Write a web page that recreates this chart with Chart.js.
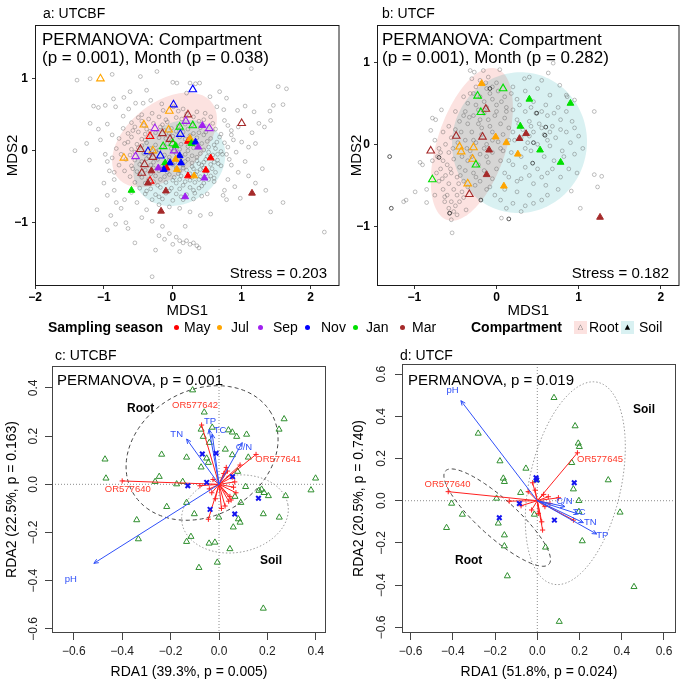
<!DOCTYPE html>
<html><head><meta charset="utf-8">
<script src="https://cdn.jsdelivr.net/npm/chart.js"></script>
<style>
body{margin:0;background:#fff;font-family:"Liberation Sans",Arial,Helvetica,sans-serif;}
#wrap{position:relative;width:685px;height:690px;overflow:hidden;background:#fff}
canvas{position:absolute}
.t{position:absolute;white-space:nowrap;color:#000;line-height:1}
.dot{position:absolute;width:5px;height:5px;border-radius:50%}
.key{position:absolute;width:13px;height:13px;font-family:"DejaVu Sans",sans-serif;font-size:7px;line-height:13px;text-align:center}
</style></head><body><div id="wrap">
<canvas id="cA" width="345" height="322" style="left:0;top:0;width:345px;height:322px"></canvas>
<canvas id="cB" width="340" height="322" style="left:345px;top:0;width:340px;height:322px"></canvas>
<canvas id="cC" width="345" height="350" style="left:0;top:340px;width:345px;height:350px"></canvas>
<canvas id="cD" width="340" height="350" style="left:345px;top:340px;width:340px;height:350px"></canvas>

<div class="t" style="left:43px;top:6px;font-size:14px">a: UTCBF</div>
<div class="t" style="left:42px;top:31px;font-size:17px">PERMANOVA: Compartment</div>
<div class="t" style="left:42px;top:49px;font-size:17px">(p = 0.001), Month (p = 0.038)</div>
<div class="t" style="right:358px;top:265px;font-size:15px">Stress = 0.203</div>

<div class="t" style="left:382px;top:6px;font-size:14px">b: UTCF</div>
<div class="t" style="left:382px;top:31px;font-size:17px">PERMANOVA: Compartment</div>
<div class="t" style="left:382px;top:49px;font-size:17px">(p = 0.001), Month (p = 0.282)</div>
<div class="t" style="right:16px;top:265px;font-size:15px">Stress = 0.182</div>

<div id="legend"></div>

<div class="t" style="left:55px;top:348px;font-size:14px">c: UTCBF</div>
<div class="t" style="left:57px;top:372px;font-size:15px">PERMANOVA, p = 0.001</div>
<div class="t" style="left:127px;top:402px;font-size:12px;font-weight:bold">Root</div>
<div class="t" style="left:260px;top:554px;font-size:12px;font-weight:bold">Soil</div>

<div class="t" style="left:400px;top:348px;font-size:14px">d: UTCF</div>
<div class="t" style="left:408px;top:372px;font-size:15px">PERMANOVA, p = 0.019</div>
<div class="t" style="left:633px;top:403px;font-size:12px;font-weight:bold">Soil</div>
<div class="t" style="left:455px;top:554px;font-size:12px;font-weight:bold">Root</div>
</div>
<script>
// ---------------- DATA ----------------
const monthNames = ['May','Jul','Sep','Nov','Jan','Mar'];
const compartmentNames = ['Root','Soil'];

// Panel a (UTCBF NMDS): background samples [MDS1, MDS2]
const aGray = [
[-1.39,0.98],[-1.20,1.00],[-0.88,1.06],[-0.47,1.03],[-0.23,1.10],[0.00,0.95],[0.06,0.94],[0.25,0.94],[0.33,0.93],[0.39,0.94],[1.14,1.14],[1.53,0.89],[1.65,0.86],[0.68,0.82],[0.78,0.73],[0.54,0.75],[0.20,0.80],[-0.38,0.84],[-0.62,0.82],[-0.71,0.74],[-0.86,0.72],[-1.15,0.62],[-1.08,0.60],[-0.98,0.63],[-0.83,0.61],[-0.64,0.58],[-0.54,0.66],[-0.43,0.66],[-0.32,0.70],[-0.16,0.65],[-0.14,0.56],[0.01,0.61],[0.08,0.55],[0.15,0.58],[0.35,0.54],[0.47,0.52],[0.64,0.61],[0.74,0.57],[0.94,0.56],[1.05,0.62],[1.18,0.54],[1.41,0.55],[1.60,0.64],[1.46,0.63],
[0.80,0.35],[0.85,0.28],[0.95,0.33],[1.25,0.38],[1.33,0.33],[1.42,0.42],[1.15,0.25],[0.88,0.15],[1.00,0.12],[1.10,0.05],[1.20,0.10],[0.80,0.05],[0.78,-0.05],[0.92,-0.02],[1.05,-0.15],[0.85,-0.20],[0.95,-0.30],[1.10,-0.35],[0.80,-0.40],[0.75,-0.55],[0.90,-0.50],[1.20,-0.45],[1.30,-0.25],[1.60,-0.72],[1.42,-0.85],[0.98,-0.66],[0.78,-0.68],[0.73,-0.62],[2.20,-1.13],[1.35,-0.55],
[-1.25,0.10],[-1.21,-0.13],[-1.05,0.15],[-1.08,0.30],[-0.95,0.37],[-1.20,0.38],[-0.98,-0.05],[-0.95,-0.15],[-0.92,-0.28],[-0.85,-0.40],[-1.00,-0.45],[-0.85,-0.55],[-0.95,-0.62],[-0.82,-0.72],[-0.70,-0.68],[-0.75,-0.80],[-1.10,-0.82],[-0.90,-0.90],[-0.68,-1.00],[-0.65,-1.08],[-0.95,-1.10],[-0.83,-1.02],[-1.42,0.00],
[-0.52,-0.72],[-0.38,-0.82],[-0.20,-0.75],[-0.05,-0.78],[0.10,-0.80],[0.25,-0.85],[0.40,-0.90],[0.55,-0.88],[-0.45,-0.93],[-0.30,-0.98],[-0.15,-1.05],[-0.05,-1.15],[0.05,-1.20],[0.10,-1.25],[0.15,-1.28],[0.20,-1.25],[0.25,-1.30],[0.30,-1.28],[0.35,-1.32],[0.38,-1.35],[-0.20,-1.18],[-0.12,-1.23],[-0.25,-1.38],[0.10,-1.40],[0.00,-1.30],[-0.30,-1.75],[0.18,-1.05],[-0.55,-1.28],
[-0.50,0.46],[-0.35,0.44],[-0.20,0.47],[-0.10,0.43],[0.05,0.46],[0.13,0.44],[0.30,0.47],[0.45,0.43],
[-0.60,0.39],[-0.45,0.41],[-0.28,0.38],[-0.08,0.40],[0.18,0.37],[0.38,0.41],[0.58,0.38],
[-0.72,0.31],[-0.55,0.33],[-0.38,0.30],[-0.18,0.33],[-0.02,0.31],[0.22,0.30],[0.40,0.32],[0.62,0.30],
[-0.65,0.24],[-0.50,0.26],[-0.40,0.23],[-0.25,0.25],[-0.05,0.24],[0.05,0.27],[0.30,0.24],[0.48,0.26],[0.70,0.23],
[-0.78,0.17],[-0.60,0.19],[-0.45,0.16],[-0.20,0.18],[-0.10,0.17],[0.10,0.19],[0.18,0.16],[0.35,0.18],[0.55,0.17],[0.68,0.19],
[-0.70,0.10],[-0.52,0.09],[-0.38,0.11],[-0.25,0.08],[-0.08,0.10],[0.12,0.09],[0.22,0.06],[0.42,0.10],[0.60,0.08],[0.75,0.11],
[-0.82,0.03],[-0.60,0.02],[-0.50,0.04],[-0.32,0.03],[-0.20,0.01],[-0.02,0.03],[0.10,0.02],[0.30,0.04],[0.45,0.01],[0.62,0.03],[0.70,-0.01],
[-0.75,-0.05],[-0.62,-0.06],[-0.42,-0.04],[-0.30,-0.05],[-0.12,-0.06],[0.05,-0.04],[0.18,-0.05],[0.28,-0.07],[0.40,-0.04],[0.58,-0.06],[0.72,-0.05],
[-0.68,-0.12],[-0.55,-0.13],[-0.38,-0.11],[-0.22,-0.12],[-0.05,-0.13],[0.08,-0.11],[0.22,-0.12],[0.35,-0.14],[0.48,-0.12],[0.65,-0.13],
[-0.78,-0.20],[-0.60,-0.21],[-0.48,-0.19],[-0.32,-0.20],[-0.15,-0.21],[0.00,-0.19],[0.15,-0.20],[0.28,-0.22],[0.42,-0.20],[0.55,-0.19],[0.70,-0.21],
[-0.70,-0.28],[-0.52,-0.29],[-0.40,-0.27],[-0.20,-0.28],[-0.08,-0.30],[0.10,-0.28],[0.20,-0.27],[0.35,-0.29],[0.50,-0.28],[0.62,-0.30],
[-0.62,-0.36],[-0.45,-0.37],[-0.25,-0.35],[-0.12,-0.36],[0.02,-0.37],[0.12,-0.35],[0.28,-0.37],[0.40,-0.36],[0.55,-0.35],
[-0.55,-0.44],[-0.40,-0.45],[-0.28,-0.43],[-0.10,-0.44],[0.05,-0.45],[0.18,-0.43],[0.32,-0.44],[0.45,-0.45],[0.60,-0.43],
[-0.48,-0.52],[-0.32,-0.53],[-0.18,-0.51],[-0.02,-0.52],[0.10,-0.53],[0.25,-0.51],[0.38,-0.52],
[-0.40,-0.60],[-0.25,-0.61],[-0.10,-0.59],[0.05,-0.60],[0.20,-0.61],[0.32,-0.59],[0.50,-0.60],
[-0.30,-0.68],[-0.15,-0.67],[0.00,-0.69],[0.15,-0.68],[0.30,-0.67],
[-0.42,0.35],[-0.15,0.36],[0.08,0.34],[0.28,0.36],[-0.32,0.20],[0.00,0.20],[0.25,0.21],[0.45,0.22],[-0.45,0.07],[-0.15,0.06],[0.05,0.08],[0.35,0.07],[0.52,0.05],[-0.35,-0.08],[-0.05,-0.09],[0.12,-0.08],[0.35,-0.09],[0.50,-0.08],[-0.28,-0.16],[0.03,-0.16],[0.28,-0.17],[0.45,-0.16],[-0.15,-0.25],[0.05,-0.24],[0.30,-0.25],[0.45,-0.24],[-0.32,-0.32],[0.08,-0.32],[0.25,-0.32],[0.48,-0.32],[-0.18,-0.40],[0.10,-0.40],[0.38,-0.40],[0.65,-0.05],[0.66,-0.18],[0.64,0.12],
[-0.58,0.28],[-0.33,0.27],[-0.12,0.28],[0.15,0.26],[0.38,0.25],[-0.65,0.12],[-0.40,0.15],[-0.02,0.14],[0.28,0.13],[0.50,0.13],[-0.55,-0.02],[-0.25,-0.01],[0.02,-0.01],[0.22,0.00],[0.52,-0.02],[-0.45,-0.15],[-0.12,-0.17],[0.18,-0.15],[0.38,-0.18],[0.60,-0.16],[-0.58,-0.25],[-0.28,-0.24],[0.15,-0.24],[0.40,-0.26],[0.57,-0.25],[-0.48,-0.33],[-0.05,-0.33],[0.33,-0.33],[0.60,-0.38],[-0.35,-0.40],[0.00,-0.41],[0.25,-0.41],[0.52,-0.40],[-0.22,-0.48],[0.15,-0.48],[0.42,-0.49],[-0.38,-0.56],[-0.05,-0.56],[0.30,-0.55],[-0.20,-0.64],[0.12,-0.64],[0.42,-0.63],[-0.30,0.52],[0.20,0.51],[-0.45,0.50],[0.55,0.47],[-0.88,0.22],[-0.88,-0.10],[-0.85,-0.30],[0.82,-0.12],[0.85,0.22],[0.75,0.42],[-0.72,0.48],[-0.60,-0.58]
];
// [MDS1, MDS2, month index]
const aRoot = [[-1.05,1.00,1],[0.29,0.85,3],[0.01,0.64,3],[-0.05,0.55,1],[0.22,0.50,5],[1.00,0.38,5],[-0.42,0.36,1],[-0.26,0.31,2],[0.19,0.41,2],[0.10,0.33,4],[0.29,0.35,4],[0.53,0.31,2],[-0.06,0.29,1],[-0.15,0.24,5],[-0.33,0.20,0],[0.11,0.23,3],[-0.04,0.16,5],[-0.14,0.06,4],[0.00,0.10,4],[-0.47,0.02,5],[-0.36,-0.01,3],[-0.29,0.00,1],[-0.18,-0.07,3],[-0.29,-0.09,5],[0.02,0.00,2],[-0.54,-0.08,2],[-0.71,-0.10,1],[-0.41,-0.19,5],[-0.45,-0.31,5],[-0.33,-0.42,0]];
const aSoil = [[0.22,0.13,0],[0.25,0.17,1],[0.27,0.10,4],[0.33,0.12,3],[0.43,0.35,2],[0.37,0.05,2],[0.04,0.07,4],[0.10,-0.07,3],[0.55,-0.10,0],[0.04,-0.12,1],[0.12,-0.17,3],[-0.11,-0.17,4],[-0.04,-0.17,3],[-0.09,-0.24,0],[-0.13,-0.26,3],[-0.21,-0.24,2],[-0.31,-0.28,5],[0.06,-0.26,1],[0.22,-0.35,0],[0.31,-0.35,1],[0.48,-0.27,0],[0.46,-0.38,2],[-0.36,-0.45,5],[-0.60,-0.55,4],[-0.10,-0.56,5],[0.18,-0.64,2],[-0.17,-0.84,5],[1.15,-0.59,5]];
// ellipses [centre x, centre y, semi-axis a, semi-axis b, angle deg]
const aEllipseRoot = [-0.12,0.15,0.86,0.52,36];
const aEllipseSoil = [0.095,-0.17,0.70,0.56,30];

// Panel b (UTCF NMDS)
const bGray = [
[-1.13,-0.70],[-1.10,-0.68],[-0.99,-0.58],[-0.85,-0.71],[-0.93,-0.22],[-0.90,-0.25],[-0.80,0.17],[-0.78,0.32],[-0.74,0.30],[-0.67,0.42],[-0.32,0.90],[-0.16,0.90],[0.04,0.91],[0.34,0.80],[0.63,0.87],[0.69,0.99],[0.77,0.72],[0.86,0.58],[0.95,0.54],[1.19,0.40],[1.28,-0.39],[1.19,-0.37],[1.23,-0.52],[1.02,-0.78],[0.91,-0.57],[0.06,-0.90],[-0.54,-1.08],[-0.57,-0.84],[-0.63,-0.64],[-0.55,-0.92],
[-0.75,0.05],[-0.70,-0.05],[-0.72,-0.15],[-0.65,-0.20],[-0.68,-0.30],[-0.60,-0.25],[-0.62,-0.38],[-0.55,-0.35],[-0.70,-0.45],[-0.58,-0.48],[-0.65,-0.55],[-0.52,-0.55],[-0.60,-0.62],[-0.48,-0.62],[-0.55,-0.70],[-0.50,-0.75],[-0.58,-0.78],[-0.52,-0.82],[-0.48,-0.86],[-0.45,-0.70],[-0.42,-0.58],[-0.40,-0.45],[-0.48,-0.40],[-0.45,-0.28],[-0.52,-0.18],[-0.58,-0.10],[-0.62,0.00],[-0.55,0.08],[-0.65,0.15],[-0.58,0.22],[-0.50,0.18],[-0.45,0.28],[-0.40,0.35],[-0.50,0.40],[-0.42,-0.15],[-0.38,-0.32],[-0.35,-0.52],[-0.68,-0.10],[-0.73,-0.35],
[-0.30,0.80],[-0.20,0.78],[-0.10,0.82],[0.00,0.75],[-0.25,0.70],[-0.12,0.68],[0.02,0.65],[-0.32,0.62],[-0.20,0.58],[-0.05,0.55],[0.10,0.58],[-0.35,0.50],[-0.25,0.48],[-0.12,0.45],[0.00,0.48],[0.12,0.45],[-0.38,0.40],[-0.28,0.35],[-0.15,0.38],[-0.02,0.35],[0.10,0.32],[-0.35,0.25],[-0.22,0.25],[-0.08,0.22],[0.05,0.25],[0.15,0.20],[-0.30,0.15],[-0.18,0.12],[-0.05,0.15],[0.08,0.12],[-0.38,0.05],[-0.25,0.02],[-0.12,0.00],[0.02,0.03],[0.15,0.05],[-0.32,-0.08],[-0.20,-0.12],[-0.05,-0.10],[0.08,-0.08],[-0.35,-0.20],[-0.22,-0.25],[-0.10,-0.22],[0.05,-0.20],[-0.28,-0.35],[-0.15,-0.32],[0.00,-0.30],[-0.20,-0.45],[-0.05,-0.42],[-0.12,-0.55],[-0.02,-0.62],[-0.26,-0.50],[-0.15,0.52],[-0.28,0.05],[-0.10,0.30],[0.00,0.40],[-0.22,0.42],[-0.15,-0.05],[-0.30,-0.15],[-0.08,0.62],[-0.18,0.20],
[0.20,0.70],[0.35,0.65],[0.50,0.68],[0.65,0.60],[0.25,0.55],[0.45,0.52],[0.60,0.48],[0.75,0.45],[0.85,0.40],[0.20,0.42],[0.35,0.40],[0.48,0.38],[0.62,0.35],[0.78,0.30],[0.92,0.28],[0.25,0.30],[0.40,0.28],[0.52,0.25],[0.68,0.22],[0.85,0.15],[1.00,0.10],[0.20,0.15],[0.32,0.18],[0.45,0.15],[0.58,0.12],[0.72,0.08],[0.90,0.02],[0.22,0.05],[0.38,0.02],[0.50,0.00],[0.65,-0.02],[0.80,-0.08],[0.95,-0.12],[0.18,-0.10],[0.30,-0.15],[0.42,-0.08],[0.58,-0.15],[0.70,-0.20],[0.88,-0.30],[0.20,-0.25],[0.35,-0.28],[0.50,-0.30],[0.62,-0.35],[0.78,-0.40],[0.15,-0.40],[0.30,-0.42],[0.45,-0.48],[0.60,-0.50],[0.75,-0.55],[0.10,-0.55],[0.25,-0.58],[0.40,-0.62],[0.55,-0.68],[0.20,-0.72],[0.35,-0.75],[0.05,-0.68],[0.40,0.10],[0.55,0.20],[0.30,0.08],[0.62,0.05],
[-0.78,-0.20],[-0.66,-0.42],[-0.56,-0.30],[-0.63,-0.70],[-0.46,-0.48],[-0.53,-0.05],[-0.47,0.02],[-0.44,-0.38],[-0.40,-0.65],[-0.37,-0.80],[-0.43,0.15],[-0.36,-0.05],[-0.33,0.33],[-0.40,0.58],[-0.27,0.88],[-0.13,0.75],[-0.05,0.70],[0.06,0.52],[-0.28,0.62],[-0.20,0.30],[-0.05,0.05],[0.05,-0.05],[-0.12,-0.15],[-0.25,-0.40],[-0.08,-0.52],[0.10,-0.35],[0.12,0.40],[0.18,0.62],[0.28,0.48],[0.42,0.45],[0.55,0.40],[0.70,0.38],[0.65,0.15],[0.78,0.18],[0.82,-0.15],[0.68,-0.30],[0.55,-0.40],[0.40,-0.38],[0.25,-0.45],[0.35,-0.05],[0.42,0.22],[0.27,0.25],[0.15,-0.20],[0.95,0.20],[1.05,-0.05],[0.98,-0.35],[0.62,-0.62],[0.45,-0.72],[0.30,-0.82],[0.12,-0.78],[0.85,0.60],[0.55,0.78],[0.40,0.82],[-0.85,-0.55],[-0.75,-0.62]
];
const bDark = [[-1.30,-0.15],[-1.28,-0.78],[-0.70,-0.16],[0.49,0.38],[0.60,0.21],[0.45,0.02],[0.44,-0.23],[-0.19,-0.68],[-0.08,0.68],[-0.57,-0.84],[0.15,-0.91],[0.59,0.11]];
const bRoot = [[0.08,0.68,4],[-0.23,0.59,4],[-0.13,0.43,5],[-0.19,0.39,4],[-0.49,0.10,5],[-0.17,0.09,5],[-0.80,-0.08,5],[-0.45,-0.03,1],[-0.43,-0.09,1],[-0.28,-0.04,1],[-0.29,-0.18,1],[-0.25,-0.25,4],[-0.78,-0.43,4],[-0.35,-0.48,1],[-0.33,-0.61,5]];
const bSoil = [[-0.18,0.74,1],[0.40,0.55,4],[0.90,0.50,4],[0.29,0.22,4],[0.36,0.13,5],[0.28,0.07,5],[-0.01,0.09,1],[0.12,0.02,1],[-0.09,-0.07,5],[0.53,-0.07,4],[0.26,-0.12,1],[0.78,-0.22,4],[-0.12,-0.37,5],[0.09,-0.51,1],[1.26,-0.89,5]];
const bEllipseRoot = [-0.30,0.00,0.97,0.42,72];
const bEllipseSoil = [0.28,0.02,0.86,0.82,80];

// Panel c (UTCBF RDA)
const cSites = [[-0.109,0.391],[-0.061,0.299],[-0.074,0.228],[-0.065,0.198],[-0.028,0.236],[-0.040,0.173],[-0.051,0.108],[-0.044,0.090],[-0.074,0.071],[-0.134,0.112],[-0.237,0.124],[-0.471,0.104],[-0.467,0.025],[-0.247,0.032],[-0.264,0.011],[-0.175,0.001],[-0.150,0.011],[0.039,0.225],[0.055,0.216],[0.073,0.198],[0.114,0.207],[0.026,0.145],[0.055,0.122],[0.121,0.112],[0.077,0.053],[0.110,-0.010],[0.066,-0.051],[0.090,-0.076],[-0.001,-0.137],[0.080,-0.144],[0.087,-0.158],[0.059,-0.178],[0.045,-0.268],[-0.017,-0.241],[-0.041,-0.245],[-0.007,-0.324],[-0.083,-0.346],[-0.134,-0.076],[-0.102,-0.123],[-0.216,-0.093],[-0.340,-0.148],[-0.333,-0.227],[-0.134,-0.238],[-0.116,-0.217],[0.165,-0.026],[0.176,-0.021],[0.186,-0.035],[0.204,-0.048],[0.183,-0.123],[0.249,-0.137],[0.275,-0.048],[0.269,0.271],[0.248,0.228],[0.380,-0.024],[0.399,0.025],[0.183,-0.515]];
const cCentroids = [[-0.069,0.126],[-0.012,0.129],[-0.129,-0.006],[-0.051,0.008],[0.056,0.032],[0.163,-0.058],[0.065,-0.123],[-0.037,-0.104]];
const cEnvNames = ['TN','TP','TC','C/N','pH'];
const cEnvTips = [[-0.134,0.188],[-0.041,0.228],[-0.028,0.209],[0.096,0.173],[-0.517,-0.328]];
const cEnvLabelAt = [[-0.175,0.206],[-0.037,0.263],[0.004,0.223],[0.103,0.154],[-0.612,-0.394]];
const cSpeciesTips = [[-0.400,0.014],[-0.072,0.246],[0.153,0.124],[-0.044,-0.145],[-0.079,-0.006],[-0.040,-0.019],[0.045,-0.050],[0.060,-0.012],[0.030,0.070],[0.020,0.045],[0.055,0.030],[0.040,-0.070],[0.025,-0.090],[0.070,-0.035],[-0.025,0.020],[-0.015,-0.060],[0.010,-0.100],[0.035,0.055],[0.050,-0.065],[-0.030,-0.035],[0.065,0.010],[0.087,0.080]];
const cSpeciesNames = ['OR577640','OR577642','OR577641'];
const cSpeciesLabelAt = [[-0.377,-0.021],[-0.099,0.326],[0.245,0.105]];
const cEllipseRoot = [-0.07,0.13,0.33,0.26,30];
const cEllipseSoil = [0.066,-0.123,0.222,0.160,10];

// Panel d (UTCF RDA)
const dSites = [[0.079,0.488],[0.179,0.354],[0.194,0.272],[0.199,0.256],[0.163,0.180],[0.171,0.055],[0.197,0.000],[0.197,-0.052],[0.336,0.098],[0.392,-0.055],[0.213,-0.191],[0.458,-0.408],[0.104,-0.573],[0.039,-0.221],[-0.054,0.153],[-0.003,0.098],[-0.079,0.038],[-0.280,0.319],[-0.177,0.188],[-0.161,0.106],[-0.156,0.090],[-0.193,0.011],[-0.406,-0.013],[-0.355,-0.065],[-0.430,-0.128],[-0.185,-0.107],[-0.156,-0.163],[-0.156,-0.215],[-0.142,-0.357],[-0.014,-0.065]];
const dCentroids = [[-0.006,0.109],[-0.003,0.098],[0.175,0.085],[-0.085,-0.013],[-0.180,-0.081],[0.081,-0.092]];
const dEnvNames = ['pH','C/N','TC','TN','TP'];
const dEnvTips = [[-0.362,0.474],[0.131,-0.028],[0.194,-0.063],[0.218,-0.104],[0.281,-0.158]];
const dEnvLabelAt = [[-0.401,0.524],[0.128,-0.002],[0.199,-0.057],[0.251,-0.104],[0.308,-0.163]];
const dSpeciesTips = [[-0.422,0.043],[0.190,0.227],[0.171,-0.092],[-0.022,0.085],[0.025,-0.139],[0.021,-0.100],[-0.133,-0.002],[-0.077,-0.024],[0.052,0.019],[0.100,0.014],[-0.043,0.043],[0.036,-0.028],[0.005,-0.060],[-0.027,-0.044],[0.060,-0.013],[-0.010,0.050],[0.030,0.030]];
const dSpeciesNames = ['OR577640','OR577645'];
const dSpeciesLabelAt = [[-0.425,0.079],[0.297,0.196]];
const dEllipseRoot = [-0.19,-0.08,0.33,0.09,-42];
const dEllipseSoil = [0.18,0.083,0.49,0.217,77.5];

// tick values
const aXTicks = [-2,-1,0,1,2], aYTicks = [-1,0,1];
const bXTicks = [-1,0,1,2], bYTicks = [-1,0,1];
const cXTicks = [-0.6,-0.4,-0.2,0,0.2,0.4], cYTicks = [-0.6,-0.4,-0.2,0,0.2,0.4];
const dXTicks = [-0.6,-0.4,-0.2,0,0.2,0.4,0.6], dYTicks = [-0.6,-0.4,-0.2,0,0.2,0.4,0.6];

// ---------------- STYLE ----------------
const FONT = '"Liberation Sans", Arial, Helvetica, sans-serif';
Chart.defaults.font.family = FONT;
const monthColors = ['#FF0000','#FFA500','#A020F0','#0000FF','#00E000','#A52A2A'];
const rootFill = '#FCE2E0', soilFill = '#D9F1F2';
const MINUS = '\u2212';
const fmtInt = v => v < 0 ? MINUS + Math.abs(v) : String(v);
const fmt1 = v => (v < -1e-9 ? MINUS : '') + Math.abs(v).toFixed(1);

function ellipsePath(ctx, chart, e) {
  const xs = chart.scales.x, ys = chart.scales.y, th = e[4] * Math.PI / 180;
  ctx.beginPath();
  for (let i = 0; i <= 144; i++) {
    const t = i / 144 * 2 * Math.PI, u = e[2] * Math.cos(t), v = e[3] * Math.sin(t);
    const X = e[0] + u * Math.cos(th) - v * Math.sin(th);
    const Y = e[1] + u * Math.sin(th) + v * Math.cos(th);
    const px = xs.getPixelForValue(X), py = ys.getPixelForValue(Y);
    if (i) ctx.lineTo(px, py); else ctx.moveTo(px, py);
  }
  ctx.closePath();
}
function clipArea(ctx, a) { ctx.beginPath(); ctx.rect(a.left, a.top, a.right - a.left, a.bottom - a.top); ctx.clip(); }
const boxPlugin = (color) => ({ id: 'box', afterDraw(chart) {
  const { ctx, chartArea: a } = chart; ctx.save(); ctx.strokeStyle = color; ctx.lineWidth = 1;
  ctx.strokeRect(a.left + 0.5, a.top + 0.5, a.right - a.left - 1, a.bottom - a.top - 1); ctx.restore(); } });

function scales(o) {
  return {
    x: { type: 'linear', position: 'bottom', min: o.x[0], max: o.x[1],
      afterBuildTicks: s => { s.ticks = o.xt.map(v => ({ value: v })); },
      afterFit: s => { s.height = o.H - o.box[3]; },
      ticks: { autoSkip: false, maxRotation: 0, minRotation: 0, padding: o.xpad, color: o.tcol, font: o.tfont, callback: o.fmt },
      grid: { display: true, drawOnChartArea: false, drawTicks: true, tickLength: o.tl, tickColor: o.gcol, color: o.gcol, tickWidth: 1 },
      border: { display: false },
      title: { display: true, text: o.xtitle, color: '#000', font: o.titleFont, padding: { top: 0, bottom: o.xtp } } },
    y: { type: 'linear', position: 'left', min: o.y[0], max: o.y[1],
      afterBuildTicks: s => { s.ticks = o.yt.map(v => ({ value: v })); },
      afterFit: s => { s.width = o.box[0]; },
      ticks: Object.assign({ autoSkip: false, padding: o.ypad, color: o.tcol, font: o.tfont, callback: o.fmt }, o.yrot ? { minRotation: 90, maxRotation: 90, crossAlign: 'center' } : {}),
      grid: { display: true, drawOnChartArea: false, drawTicks: true, tickLength: o.tl, tickColor: o.gcol, color: o.gcol, tickWidth: 1 },
      border: { display: false },
      title: { display: true, text: o.ytitle, color: '#000', font: o.titleFont, padding: { top: o.ytp, bottom: 0 } } }
  };
}
function baseOptions(o) {
  return { responsive: false, animation: false, devicePixelRatio: 1,
    layout: { padding: { left: 0, top: o.box[2], right: o.W - o.box[1], bottom: 0 } },
    plugins: { legend: { display: false }, tooltip: { enabled: false } },
    events: [], scales: scales(o) };
}
const toXY = arr => arr.map(p => ({ x: p[0], y: p[1] }));

function buildNMDS(id, o) {
  const tri = (arr, filled) => ({ data: toXY(arr), showLine: false, pointStyle: 'triangle',
    pointRadius: filled ? 3.9 : 4.4, pointBorderWidth: filled ? 1 : 1.1,
    pointBorderColor: arr.map(p => monthColors[p[2]]),
    pointBackgroundColor: filled ? arr.map(p => monthColors[p[2]]) : 'rgba(0,0,0,0)', order: filled ? 1 : 2 });
  const datasets = [
    { data: toXY(o.gray), showLine: false, pointStyle: 'circle', pointRadius: 1.9, pointBorderWidth: 0.8, pointBorderColor: 'rgba(95,95,95,0.5)', pointBackgroundColor: 'rgba(0,0,0,0)', order: 4 },
    tri(o.root, false), tri(o.soil, true)
  ];
  if (o.dark) datasets.push({ data: toXY(o.dark), showLine: false, pointStyle: 'circle', pointRadius: 1.9, pointBorderWidth: 0.9, pointBorderColor: 'rgba(30,30,30,0.8)', pointBackgroundColor: 'rgba(0,0,0,0)', order: 3 });
  const ell = { id: 'ell', beforeDatasetsDraw(chart) {
    const ctx = chart.ctx; ctx.save(); clipArea(ctx, chart.chartArea);
    ellipsePath(ctx, chart, o.ellRoot); ctx.fillStyle = rootFill; ctx.fill();
    ctx.globalCompositeOperation = 'multiply';
    ellipsePath(ctx, chart, o.ellSoil); ctx.fillStyle = soilFill; ctx.fill();
    ctx.restore(); } };
  const opt = baseOptions(o);
  new Chart(document.getElementById(id), { type: 'scatter', data: { datasets }, options: opt, plugins: [ell, boxPlugin('#1a1a1a')] });
}

function buildRDA(id, o) {
  const red = '#FF2020', blue = '#3050F8';
  const datasets = [{ data: toXY(o.sites), showLine: false, pointStyle: 'triangle', pointRadius: 3.5, pointBorderWidth: 1, pointBorderColor: '#2F8F2F', pointBackgroundColor: 'rgba(0,0,0,0)', order: 7 }];
  o.spTips.forEach(p => datasets.push({ data: [{ x: 0, y: 0 }, { x: p[0], y: p[1] }], showLine: true, borderColor: red, borderWidth: 1, pointStyle: 'cross', pointRadius: [0, 2.6], pointBorderWidth: 1, pointBorderColor: red, order: 5 }));
  o.envTips.forEach(p => datasets.push({ data: [{ x: 0, y: 0 }, { x: p[0], y: p[1] }], showLine: true, borderColor: blue, borderWidth: 1, pointRadius: 0, order: 3 }));
  datasets.push({ data: toXY(o.cent), showLine: false, pointStyle: 'crossRot', pointRadius: 3.2, pointBorderWidth: 2, pointBorderColor: '#1515F0', order: 1 });
  const deco = { id: 'deco',
    beforeDatasetsDraw(chart) {
      const { ctx, chartArea: a, scales: { x, y } } = chart; ctx.save(); clipArea(ctx, a);
      const x0 = x.getPixelForValue(0), y0 = y.getPixelForValue(0);
      ctx.strokeStyle = '#8c8c8c'; ctx.lineWidth = 1; ctx.setLineDash([1, 2]);
      ctx.beginPath(); ctx.moveTo(a.left, y0); ctx.lineTo(a.right, y0); ctx.moveTo(x0, a.top); ctx.lineTo(x0, a.bottom); ctx.stroke();
      ctx.setLineDash([4, 3]); ctx.strokeStyle = '#444'; ellipsePath(ctx, chart, o.ellRoot); ctx.stroke();
      ctx.setLineDash([1.5, 2]); ctx.strokeStyle = '#9a9a9a'; ellipsePath(ctx, chart, o.ellSoil); ctx.stroke();
      ctx.restore(); },
    afterDatasetsDraw(chart) {
      const { ctx, scales: { x, y } } = chart; ctx.save();
      const x0 = x.getPixelForValue(0), y0 = y.getPixelForValue(0);
      ctx.fillStyle = blue; ctx.strokeStyle = blue; ctx.lineWidth = 1;
      o.envTips.forEach(p => { const px = x.getPixelForValue(p[0]), py = y.getPixelForValue(p[1]);
        const ang = Math.atan2(py - y0, px - x0), L = 5, w = 0.42;
        ctx.beginPath(); ctx.moveTo(px - L * Math.cos(ang - w), py - L * Math.sin(ang - w)); ctx.lineTo(px, py);
        ctx.lineTo(px - L * Math.cos(ang + w), py - L * Math.sin(ang + w)); ctx.stroke(); });
      ctx.font = '9.5px ' + FONT; ctx.textAlign = 'center'; ctx.textBaseline = 'middle';
      o.envNames.forEach((n, i) => { ctx.fillText(n, x.getPixelForValue(o.envLab[i][0]), y.getPixelForValue(o.envLab[i][1])); });
      ctx.fillStyle = '#FF3A2A';
      o.spNames.forEach((n, i) => { ctx.fillText(n, x.getPixelForValue(o.spLab[i][0]), y.getPixelForValue(o.spLab[i][1])); });
      ctx.restore(); } };
  new Chart(document.getElementById(id), { type: 'scatter', data: { datasets }, options: baseOptions(o), plugins: [deco, boxPlugin('#444')] });
}

const nmdsCommon = { tcol: '#000', tfont: { size: 12, weight: 'bold' }, fmt: fmtInt, tl: 3, gcol: '#333', xpad: 1, ypad: 4,
  titleFont: { size: 15 }, xtitle: 'MDS1', ytitle: 'MDS2', xtp: 2, ytp: 4 };
buildNMDS('cA', Object.assign({}, nmdsCommon, { W: 345, H: 322, box: [35, 340, 25, 286], x: [-2.0, 2.42], y: [-1.879, 1.746], xt: aXTicks, yt: aYTicks,
  gray: aGray, root: aRoot, soil: aSoil, ellRoot: aEllipseRoot, ellSoil: aEllipseSoil }));
buildNMDS('cB', Object.assign({}, nmdsCommon, { W: 340, H: 322, box: [32, 335, 25, 286], x: [-1.454, 2.227], y: [-1.728, 1.455], xt: bXTicks, yt: bYTicks,
  gray: bGray, dark: bDark, root: bRoot, soil: bSoil, ellRoot: bEllipseRoot, ellSoil: bEllipseSoil, ytp: 3 }));

const rdaCommon = { tcol: '#222', tfont: { size: 12 }, fmt: fmt1, tl: 7, gcol: '#444', xpad: 4, ypad: -1, yrot: true, titleFont: { size: 14 } };
buildRDA('cC', Object.assign({}, rdaCommon, { W: 345, H: 350, box: [52, 326, 26, 293], x: [-0.690, 0.442], y: [-0.617, 0.491], xt: cXTicks, yt: cYTicks,
  xtitle: 'RDA1 (39.3%, p = 0.005)', ytitle: 'RDA2 (22.5%, p = 0.163)', xtp: 9, ytp: 4,
  sites: cSites, cent: cCentroids, envTips: cEnvTips, envNames: cEnvNames, envLab: cEnvLabelAt, spTips: cSpeciesTips, spNames: cSpeciesNames, spLab: cSpeciesLabelAt,
  ellRoot: cEllipseRoot, ellSoil: cEllipseSoil }));
buildRDA('cD', Object.assign({}, rdaCommon, { W: 340, H: 350, box: [57, 331, 24, 293], x: [-0.641, 0.657], y: [-0.627, 0.648], xt: dXTicks, yt: dYTicks, ypad: 1,
  xtitle: 'RDA1 (51.8%, p = 0.024)', ytitle: 'RDA2 (20.5%, p = 0.740)', xtp: 9, ytp: 6,
  sites: dSites, cent: dCentroids, envTips: dEnvTips, envNames: dEnvNames, envLab: dEnvLabelAt, spTips: dSpeciesTips, spNames: dSpeciesNames, spLab: dSpeciesLabelAt,
  ellRoot: dEllipseRoot, ellSoil: dEllipseSoil }));

// ---------------- LEGEND ----------------
(function () {
  const lg = document.getElementById('legend');
  const dotX = [176, 219, 260, 307, 355, 402], labX = [184, 231, 273, 321, 366, 412];
  let h = '<div class="t" style="left:48px;top:320px;font-size:14px;font-weight:bold">Sampling season</div>';
  monthNames.forEach((m, i) => {
    h += '<div class="dot" style="left:' + (dotX[i] - 2.5) + 'px;top:324.5px;background:' + monthColors[i] + '"></div>';
    h += '<div class="t" style="left:' + labX[i] + 'px;top:320px;font-size:14px">' + m + '</div>';
  });
  h += '<div class="t" style="left:471px;top:320px;font-size:14px;font-weight:bold">Compartment</div>';
  h += '<div class="key" style="left:574px;top:321px;background:' + rootFill + ';color:#666">\u25B3</div>';
  h += '<div class="t" style="left:589px;top:320px;font-size:14px">' + compartmentNames[0] + '</div>';
  h += '<div class="key" style="left:621px;top:321px;background:' + soilFill + ';color:#000">\u25B2</div>';
  h += '<div class="t" style="left:639px;top:320px;font-size:14px">' + compartmentNames[1] + '</div>';
  lg.innerHTML = h;
})();
</script>
</body></html>
